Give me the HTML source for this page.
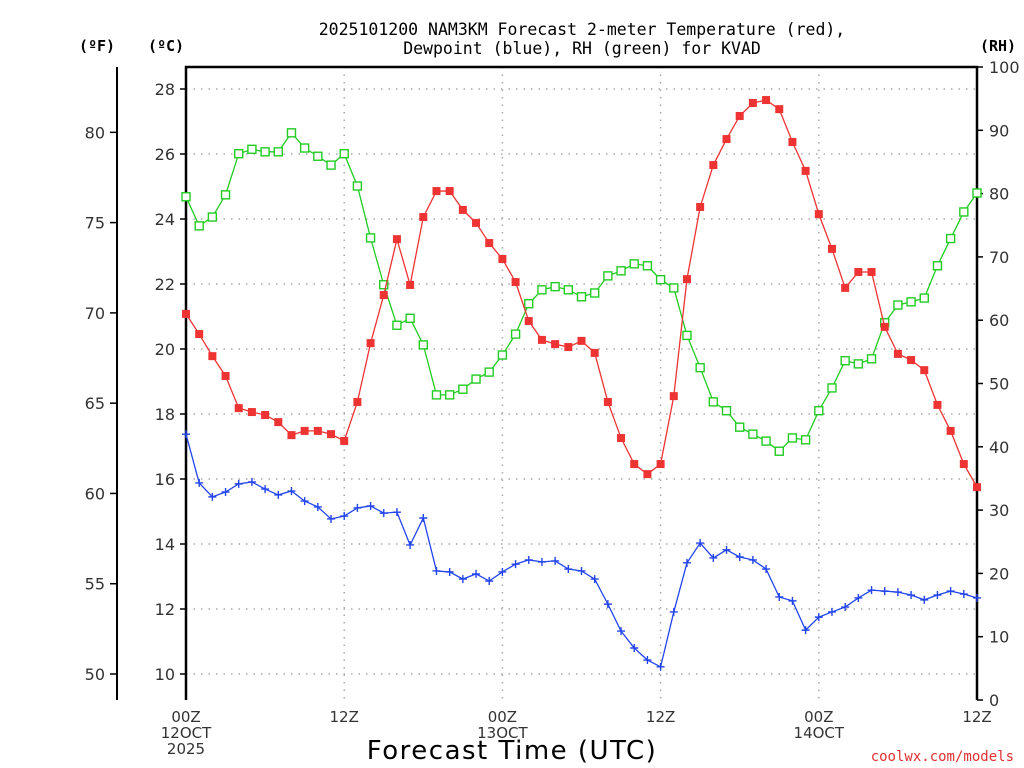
<!DOCTYPE html>
<html><head><meta charset="utf-8"><style>
body{margin:0;background:#fff}
svg{display:block}
text{font-family:"DejaVu Sans Mono","Liberation Mono",monospace}
.tk{font-family:"DejaVu Sans","Liberation Sans",sans-serif}
</style></head><body>
<svg id="chart" width="1024" height="768" viewBox="0 0 1024 768">
<g id="grid"></g>
<g id="axes"></g>
<g id="series"></g>
<text x="582" y="35" font-size="16.5" text-anchor="middle">2025101200 NAM3KM Forecast 2-meter Temperature (red),</text>
<text x="582" y="54" font-size="16.5" text-anchor="middle">Dewpoint (blue), RH (green) for KVAD</text>
<text x="97" y="51" font-size="15" font-weight="bold" text-anchor="middle">(ºF)</text>
<text x="166" y="51" font-size="15" font-weight="bold" text-anchor="middle">(ºC)</text>
<text x="998" y="51" font-size="15" font-weight="bold" text-anchor="middle">(RH)</text>
<text x="512" y="759" font-size="26" text-anchor="middle" class="tk" letter-spacing="1.5">Forecast Time (UTC)</text>
<text x="1014" y="761" font-size="14" fill="#e03030" text-anchor="end">coolwx.com/models</text>
</svg>
<script>
const hours=[];for(let i=0;i<=60;i++)hours.push(i);
const tempC=[21.08,20.46,19.78,19.17,18.18,18.06,17.97,17.75,17.35,17.48,17.48,17.38,17.17,18.37,20.18,21.66,23.38,21.97,24.06,24.86,24.86,24.28,23.88,23.26,22.77,22.06,20.86,20.28,20.15,20.06,20.25,19.88,18.37,17.26,16.46,16.15,16.46,18.55,22.15,24.37,25.66,26.46,27.17,27.57,27.66,27.38,26.37,25.48,24.15,23.08,21.88,22.37,22.37,20.68,19.85,19.66,19.35,18.28,17.48,16.46,15.75];
const dewC=[17.38,15.88,15.45,15.60,15.85,15.91,15.69,15.51,15.63,15.32,15.14,14.77,14.86,15.11,15.17,14.95,14.98,13.97,14.80,13.17,13.14,12.92,13.08,12.86,13.14,13.38,13.51,13.45,13.48,13.23,13.17,12.92,12.15,11.32,10.80,10.43,10.22,11.91,13.42,14.03,13.57,13.82,13.60,13.51,13.23,12.37,12.25,11.35,11.75,11.91,12.06,12.34,12.58,12.55,12.52,12.43,12.28,12.43,12.55,12.46,12.34];
const rh=[79.5,74.9,76.3,79.8,86.3,87.0,86.6,86.6,89.6,87.2,85.9,84.5,86.3,81.2,73.0,65.6,59.2,60.3,56.1,48.2,48.2,49.1,50.7,51.8,54.5,57.8,62.6,64.8,65.3,64.8,63.7,64.3,67.0,67.8,68.9,68.6,66.4,65.1,57.6,52.5,47.1,45.7,43.1,42.0,40.9,39.3,41.4,41.1,45.7,49.3,53.6,53.1,53.9,59.6,62.4,62.9,63.5,68.6,72.9,77.1,80.1];
const cTicks=[10,12,14,16,18,20,22,24,26,28];
const fTicks=[50,55,60,65,70,75,80];
const rhTicks=[0,10,20,30,40,50,60,70,80,90,100];
const xTickHours=[0,12,24,36,48,60];
const xTickLabels=[["00Z","12OCT","2025"],["12Z"],["00Z","13OCT"],["12Z"],["00Z","14OCT"],["12Z"]];

const NS="http://www.w3.org/2000/svg";
const X0=186,X1=977,Y0=67,Y1=700;
const xs=h=>X0+(h/60)*(X1-X0);
const yC=c=>89+(28-c)*32.5;
const yF=f=>yC((f-32)/1.8);
const yRH=r=>Y1-r*(Y1-Y0)/100;
function mk(tag,attrs,parent){const e=document.createElementNS(NS,tag);for(const k in attrs)e.setAttribute(k,attrs[k]);parent.appendChild(e);return e;}
const grid=document.getElementById('grid'),axes=document.getElementById('axes'),series=document.getElementById('series');

cTicks.forEach(c=>{
  const g=mk('line',{x1:X0,x2:X1,y1:yC(c),y2:yC(c),stroke:'#aaa','stroke-width':1.5,'stroke-dasharray':'1.5 6'},grid);
  
  
  const t=mk('line',{x1:X0-6,x2:X0,y1:yC(c),y2:yC(c),stroke:'#000','stroke-width':1.5},axes);
  
  
  const l=mk('text',{x:175,y:yC(c)+6,'font-size':16,'text-anchor':'end',fill:'#333',class:'tk'},axes);l.textContent=c;
  
  
});
xTickHours.forEach((h,i)=>{
  if(h>0&&h<60){const g=mk('line',{x1:xs(h),x2:xs(h),y1:Y0,y2:Y1,stroke:'#aaa','stroke-width':1.5,'stroke-dasharray':'1.5 6'},grid);
  
  }
  xTickLabels[i].forEach((s,j)=>{const t=mk('text',{x:xs(h),y:722+j*16,'font-size':15,'text-anchor':'middle',fill:'#333',class:'tk'},axes);t.textContent=s;
  
  });
});
fTicks.forEach(f=>{
  const t=mk('line',{x1:110,x2:117,y1:yF(f),y2:yF(f),stroke:'#000','stroke-width':1.5},axes);
  
  
  const l=mk('text',{x:105,y:yF(f)+6,'font-size':16,'text-anchor':'end',fill:'#333',class:'tk'},axes);l.textContent=f;
  
  
});
rhTicks.forEach(r=>{
  const t=mk('line',{x1:X1,x2:X1+6,y1:yRH(r),y2:yRH(r),stroke:'#000','stroke-width':1.5},axes);
  
  
  const l=mk('text',{x:989,y:yRH(r)+6,'font-size':16,fill:'#333',class:'tk'},axes);l.textContent=r;
  
  
});
let a=mk('line',{x1:117,x2:117,y1:Y0,y2:Y1,stroke:'#000','stroke-width':2},axes);


a=mk('polyline',{points:`${X0},${Y1} ${X0},${Y0} ${X1},${Y0} ${X1},${Y1}`,fill:'none',stroke:'#000','stroke-width':2.5},axes);



function drawSeries(vals,yf,color,marker,name){
  const g=mk('g',{},series);
  
  
  const pl=mk('polyline',{points:vals.map((v,i)=>xs(hours[i])+','+yf(v)).join(' '),fill:'none',stroke:color,'stroke-width':1.3},g);
  
  
  vals.forEach((v,i)=>{
    const x=xs(hours[i]),y=yf(v);let m;
    if(marker==='fill')m=mk('rect',{x:x-4,y:y-4,width:8,height:8,fill:color},g);
    else if(marker==='open')m=mk('rect',{x:x-4,y:y-4,width:8,height:8,fill:'#fff',stroke:color,'stroke-width':1.4},g);
    else m=mk('path',{d:`M${x-4},${y}H${x+4}M${x},${y-4}V${y+4}`,stroke:color,'stroke-width':1.4},g);
    
    
  });
}
drawSeries(rh,yRH,'#22cc22','open','rh');
drawSeries(tempC,yC,'#ee3333','fill','temperature');
drawSeries(dewC,yC,'#2244ee','plus','dewpoint');
</script>
</body></html>
